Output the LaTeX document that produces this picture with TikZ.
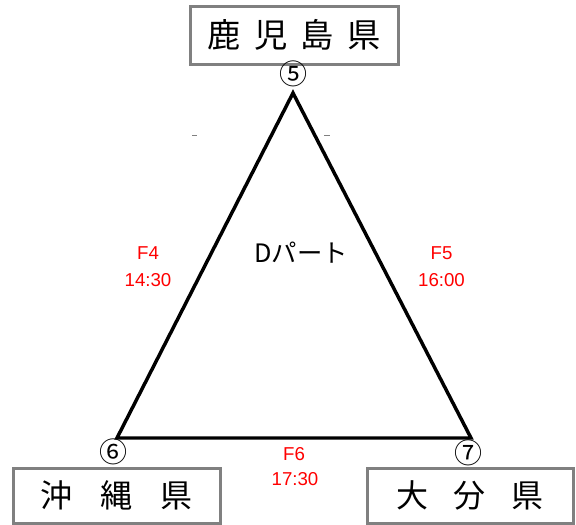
\documentclass[tikz,border=0pt]{standalone}
\usepackage{fontspec}
\setmainfont{Liberation Sans}
\newfontfamily\jpfont{Noto Sans CJK JP}
\usepackage{tikz}

\tikzset{
  prefbox/.style={draw={rgb,255:red,128;green,128;blue,128}, line width=2.25pt, inner sep=0pt, font=\jpfont},
  circnum/.style={inner sep=0pt, font=\jpfont\fontsize{21}{21}\selectfont},
  matchlbl/.style={inner sep=0.75pt, text=red, font=\fontsize{14}{14}\selectfont},
}

\begin{document}
\begin{tikzpicture}[x=0.75pt,y=0.75pt,yscale=-1,xscale=1]
        \useasboundingbox (0,0) rectangle (576,525);

        % Vertices of the triangle
        \coordinate (v5) at (293,93);
        \coordinate (v6) at (117,438);
        \coordinate (v7) at (471,438);

        %Shape: Triangle
        \draw [line width=2.6pt, line join=miter] (v5) -- (v6) -- (v7) -- cycle ;

        % Prefecture boxes
        \node (kagoshima) [prefbox, minimum width=156pt, minimum height=43.5pt] at (294,35)
              {\fontsize{25}{25}\selectfont 鹿\hspace{10pt}児\hspace{10pt}島\hspace{10pt}県};
        \node (okinawa) [prefbox, minimum width=155.25pt, minimum height=41.6pt] at (116.5,495.75)
              {\fontsize{24}{24}\selectfont 沖\hspace{21pt}縄\hspace{21pt}県};
        \node (oita) [prefbox, minimum width=154.5pt, minimum height=41.6pt] at (470,495.75)
              {\fontsize{24}{24}\selectfont 大\hspace{19.5pt}分\hspace{19.5pt}県};

        % Circled numbers
        \node (n5) [circnum] at (293,74) {⑤};
        \node (n6) [circnum] at (113,452) {⑥};
        \node (n7) [circnum] at (468,452.5) {⑦};

        % Text Node
        \node (part) [inner sep=0.75pt, font=\jpfont\fontsize{19}{19}\selectfont] at (301,253) {Dパート};

        % Match labels
        \node (f4) [matchlbl] at (148,253) {F4};
        \node (t4) [matchlbl] at (148,280) {14:30};
        \node (f5) [matchlbl] at (441.5,253) {F5};
        \node (t5) [matchlbl] at (441.5,280) {16:00};
        \node (f6) [matchlbl] at (294,454) {F6};
        \node (t6) [matchlbl] at (295,479) {17:30};

        % small marks
        \coordinate (ma) at (192,135);
        \coordinate (mb) at (324,135);
        \draw [gray, line width=0.75pt] (ma) -- ++(5,0) ;
        \draw [gray, line width=0.75pt] (mb) -- ++(6,0) ;

\end{tikzpicture}
\end{document}
